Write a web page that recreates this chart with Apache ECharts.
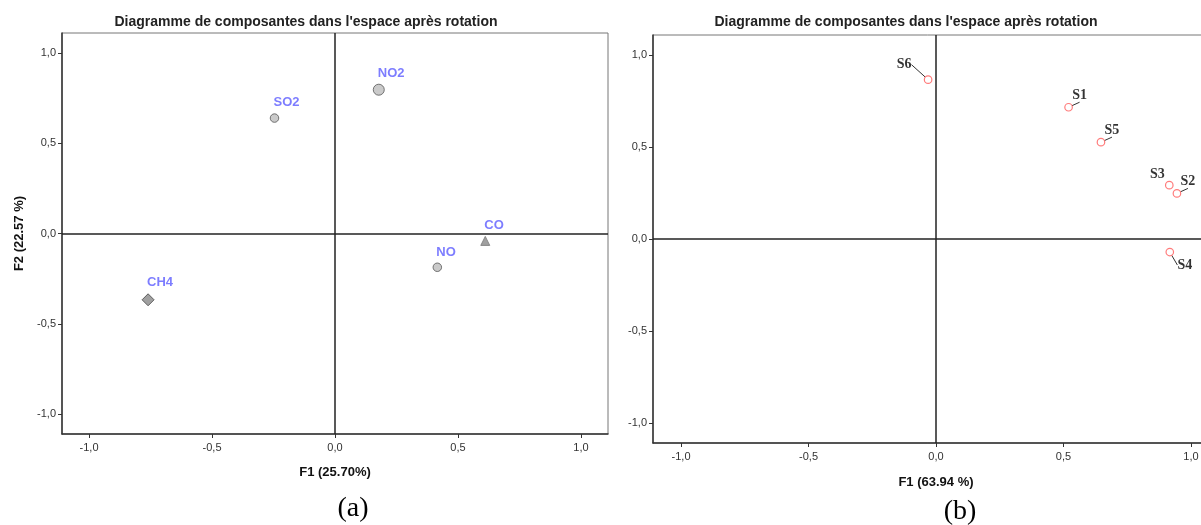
<!DOCTYPE html>
<html><head><meta charset="utf-8">
<script src="https://cdn.jsdelivr.net/npm/echarts@6/dist/echarts.min.js"></script>
<style>html,body{margin:0;padding:0;background:#fff}#c{width:1201px;height:525px}</style>
</head><body><div id="c"></div>
<script>
// ---- data ----
const titleText = "Diagramme de composantes dans l'espace après rotation";
const tickValues = [-1, -0.5, 0, 0.5, 1];
const gasNames = ['NO2', 'SO2', 'CO', 'NO', 'CH4'];
const gasF1 = [0.178, -0.246, 0.611, 0.416, -0.760];
const gasF2 = [0.796, 0.639, -0.041, -0.187, -0.367];
const siteNames = ['S6', 'S1', 'S5', 'S3', 'S2', 'S4'];
const siteF1 = [-0.031, 0.520, 0.647, 0.915, 0.945, 0.917];
const siteF2 = [0.867, 0.717, 0.527, 0.293, 0.248, -0.071];
const xNameA = 'F1 (25.70%)';
const yNameA = 'F2 (22.57 %)';
const xNameB = 'F1 (63.94 %)';
const captions = ['(a)', '(b)'];

// ---- styles ----
const gasStyle = {
  NO2: {symbol: 'circle', size: 11, fill: '#bdbdbd', border: '#555'},
  SO2: {symbol: 'circle', size: 8.5, fill: '#bdbdbd', border: '#555'},
  CO:  {symbol: 'triangle', size: 9, fill: '#888', border: '#777'},
  NO:  {symbol: 'circle', size: 8.5, fill: '#bdbdbd', border: '#555'},
  CH4: {symbol: 'diamond', size: 12, fill: '#888', border: '#444'}
};
const siteLabelShift = {S6: [-24, -15], S1: [11, -12], S5: [11, -12], S3: [-12, -11], S2: [11, -12], S4: [15, 13]};
const siteLabelLine = {S6: true, S1: true, S5: true, S3: false, S2: true, S4: true};

const fmt = v => v.toFixed(1).replace('.', ',');
const SANS = "'Liberation Sans', Arial, sans-serif";
const SERIF = "'Liberation Serif', 'Times New Roman', serif";

function xAxis(gridIndex, name, gap) {
  return {
    type: 'value', gridIndex, min: -1.11, max: 1.11,
    name, nameLocation: 'middle', nameGap: gap,
    nameTextStyle: {fontWeight: 'bold', fontSize: 13, color: '#111', fontFamily: SANS},
    axisLine: {onZero: false, lineStyle: {color: '#333', width: 1.5}},
    axisTick: {show: true, length: 4, customValues: tickValues, lineStyle: {color: '#333'}},
    axisLabel: {customValues: tickValues, formatter: fmt, fontSize: 11, color: '#333', margin: 8, fontFamily: SANS},
    splitLine: {show: false}
  };
}
function yAxis(gridIndex, name) {
  return {
    type: 'value', gridIndex, min: -1.11, max: 1.11,
    name, nameLocation: 'middle', nameGap: 36,
    nameTextStyle: {fontWeight: 'bold', fontSize: 13, color: '#111', fontFamily: SANS},
    axisLine: {onZero: false, lineStyle: {color: '#333', width: 1.5}},
    axisTick: {show: true, length: 4, customValues: tickValues, lineStyle: {color: '#333'}},
    axisLabel: {customValues: tickValues, formatter: fmt, fontSize: 11, color: '#333', margin: 6, fontFamily: SANS},
    splitLine: {show: false}
  };
}
const zeroLines = {
  silent: true, symbol: 'none', animation: false,
  label: {show: false},
  lineStyle: {color: '#222', width: 1.5, type: 'solid'},
  data: [{xAxis: 0}, {yAxis: 0}]
};

const gasData = gasNames.map((n, i) => {
  const s = gasStyle[n];
  return {
    name: n, value: [gasF1[i], gasF2[i]], symbol: s.symbol, symbolSize: s.size,
    itemStyle: {color: s.fill, borderColor: s.border, borderWidth: 1}
  };
});
const siteData = siteNames.map((n, i) => ({
  name: n, value: [siteF1[i], siteF2[i]],
  labelLine: {show: siteLabelLine[n]}
}));

const chart = echarts.init(document.getElementById('c'), null, {renderer: 'canvas'});
chart.setOption({
  animation: false,
  backgroundColor: '#fff',
  grid: [
    {left: 62, top: 33, width: 546, height: 401, show: true, borderColor: '#777', borderWidth: 1, outerBoundsMode: 'none', containLabel: false},
    {left: 653, top: 35, width: 566, height: 408, show: true, borderColor: '#777', borderWidth: 1, outerBoundsMode: 'none', containLabel: false}
  ],
  xAxis: [xAxis(0, xNameA, 32), xAxis(1, xNameB, 33)],
  yAxis: [yAxis(0, yNameA), yAxis(1, '')],
  graphic: [
    {type: 'text', x: 306, y: 22, style: {text: titleText, align: 'center', verticalAlign: 'middle', textAlign: 'center', textVerticalAlign: 'middle', font: "bold 14px " + SANS, fill: '#222'}},
    {type: 'text', x: 906, y: 22, style: {text: titleText, align: 'center', verticalAlign: 'middle', textAlign: 'center', textVerticalAlign: 'middle', font: "bold 14px " + SANS, fill: '#222'}},
    {type: 'text', x: 353, y: 509, style: {text: captions[0], align: 'center', verticalAlign: 'middle', textAlign: 'center', textVerticalAlign: 'middle', font: "28px " + SERIF, fill: '#000'}},
    {type: 'text', x: 960, y: 512, style: {text: captions[1], align: 'center', verticalAlign: 'middle', textAlign: 'center', textVerticalAlign: 'middle', font: "28px " + SERIF, fill: '#000'}}
  ],
  series: [
    {
      type: 'scatter', xAxisIndex: 0, yAxisIndex: 0, data: gasData,
      label: {show: true, formatter: '{b}', position: 'top', align: 'left', distance: 4, offset: [-1, 0],
        color: '#5c5cff', fontWeight: 'bold', fontSize: 13, fontFamily: SANS, textBorderWidth: 0},
      markLine: zeroLines,
      z: 3
    },
    {
      type: 'scatter', xAxisIndex: 1, yAxisIndex: 1, data: siteData,
      symbol: 'circle', symbolSize: 7.5,
      itemStyle: {color: '#fff', borderColor: '#ff5a5a', borderWidth: 1.2},
      label: {show: true, formatter: '{b}', position: 'inside', color: '#000', fontWeight: 'bold', fontSize: 14,
        fontFamily: SERIF, textBorderWidth: 0},
      labelLine: {show: true, lineStyle: {color: '#333', width: 1}},
      labelLayout: function (p) {
        const n = siteNames[p.dataIndex];
        const s = siteLabelShift[n] || [0, 0];
        return {dx: s[0], dy: s[1]};
      },
      markLine: zeroLines,
      z: 3
    }
  ]
});
</script></body></html>
